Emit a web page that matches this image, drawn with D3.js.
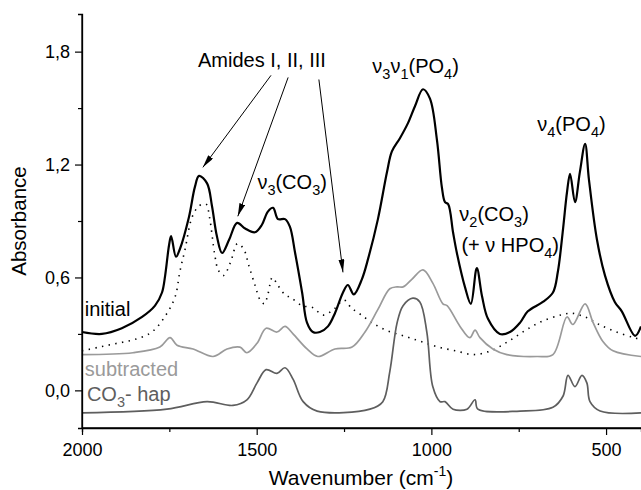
<!DOCTYPE html>
<html>
<head>
<meta charset="utf-8">
<script src="https://cdn.jsdelivr.net/npm/d3@7"></script>
<style>
  body { margin: 0; background: #fff; }
  text { font-family: Arial, "Liberation Sans", sans-serif; }
</style>
</head>
<body>
<svg id="chart" width="641" height="490"></svg>
<script>
// spectra: [wavenumber, absorbance]
const initial = [
  [2000,0.31],[1943,0.30],[1886,0.33],[1828,0.39],[1791,0.45],[1771,0.52],[1762,0.61],[1751,0.77],
  [1745,0.82],[1731,0.71],[1720,0.75],[1694,0.92],[1677,1.08],[1665,1.14],[1642,1.10],[1628,0.98],
  [1614,0.82],[1599,0.73],[1579,0.80],[1556,0.89],[1533,0.86],[1505,0.84],[1485,0.88],[1468,0.95],
  [1453,0.97],[1439,0.91],[1419,0.91],[1405,0.87],[1390,0.73],[1370,0.52],[1356,0.36],[1339,0.31],
  [1319,0.31],[1296,0.34],[1276,0.41],[1253,0.52],[1239,0.56],[1222,0.51],[1199,0.59],[1181,0.70],
  [1153,0.91],[1127,1.16],[1113,1.27],[1090,1.34],[1067,1.42],[1047,1.51],[1024,1.60],[1004,1.55],
  [984,1.33],[970,1.08],[961,1.00],[952,0.99],[938,0.84],[927,0.73],[904,0.55],[887,0.46],
  [870,0.65],[855,0.50],[838,0.38],[804,0.30],[775,0.31],[746,0.36],[724,0.42],[681,0.47],
  [652,0.52],[638,0.63],[623,0.86],[612,1.05],[603,1.15],[589,1.00],[575,1.16],[560,1.31],
  [549,1.12],[526,0.80],[503,0.61],[475,0.47],[455,0.42],[417,0.29],[400,0.34]
];

const organic = [
  [2000,0.21],[1950,0.23],[1900,0.25],[1850,0.27],[1800,0.31],[1760,0.40],[1733,0.50],[1720,0.63],
  [1705,0.75],[1685,0.92],[1665,0.98],[1645,0.99],[1635,0.92],[1620,0.72],[1610,0.64],[1595,0.61],
  [1575,0.68],[1555,0.78],[1537,0.75],[1522,0.66],[1505,0.56],[1490,0.48],[1478,0.46],[1468,0.51],
  [1455,0.60],[1440,0.56],[1420,0.51],[1400,0.49],[1370,0.45],[1340,0.44],[1310,0.40],[1280,0.43],
  [1250,0.48],[1230,0.44],[1200,0.40],[1170,0.36],[1130,0.32],[1080,0.29],[1030,0.26],[980,0.23],
  [930,0.21],[880,0.19],[830,0.21],[780,0.26],[730,0.32],[680,0.37],[630,0.40],[600,0.41],
  [560,0.39],[520,0.35],[470,0.31],[420,0.28],[400,0.27]
];

const subtracted = [
  [2000,0.19],[1854,0.20],[1777,0.23],[1748,0.28],[1728,0.24],[1682,0.22],[1625,0.18],[1585,0.22],
  [1548,0.23],[1528,0.20],[1499,0.25],[1473,0.33],[1442,0.31],[1419,0.34],[1396,0.30],[1356,0.22],
  [1325,0.18],[1276,0.22],[1227,0.23],[1190,0.31],[1153,0.43],[1119,0.54],[1098,0.55],[1081,0.55],
  [1056,0.59],[1024,0.64],[996,0.57],[967,0.46],[955,0.45],[918,0.34],[890,0.28],[875,0.32],
  [861,0.28],[824,0.22],[784,0.19],[698,0.18],[652,0.19],[612,0.39],[595,0.35],[560,0.46],
  [537,0.36],[509,0.26],[480,0.21],[400,0.18]
];

const co3hap = [
  [2000,-0.12],[1757,-0.10],[1642,-0.06],[1568,-0.08],[1528,-0.05],[1499,0.04],[1473,0.11],[1442,0.09],
  [1419,0.12],[1396,0.06],[1367,-0.06],[1327,-0.11],[1176,-0.10],[1139,-0.06],[1119,0.10],[1098,0.36],
  [1081,0.45],[1053,0.49],[1033,0.47],[1013,0.31],[996,0.02],[975,-0.06],[961,-0.06],[938,-0.10],
  [898,-0.10],[875,-0.05],[867,-0.10],[746,-0.11],[652,-0.09],[623,-0.03],[609,0.08],[589,0.02],
  [569,0.08],[555,0.04],[546,-0.06],[517,-0.11],[400,-0.12]
];

const xMajor = [2000, 1500, 1000, 500];
const xMinor = [1750, 1250, 750];
const yMajor = [0, 0.6, 1.2, 1.8];
const yMinor = [0.3, 0.9, 1.5];

const svg = d3.select("#chart");

const x = d3.scaleLinear().domain([2000, 400]).range([82, 641]);
const y = d3.scaleLinear().domain([-0.2, 2.0]).range([428, 14]);

const line = d3.line()
    .x(d => x(d[0]))
    .y(d => y(d[1]))
    .curve(d3.curveCatmullRom.alpha(0.5));

// curves
svg.append("path").datum(organic)
    .attr("d", line).attr("fill", "none")
    .attr("stroke", "#000").attr("stroke-width", 1.6)
    .attr("stroke-dasharray", "1.4,5.4");

svg.append("path").datum(co3hap)
    .attr("d", line).attr("fill", "none")
    .attr("stroke", "#5e5e5e").attr("stroke-width", 1.7);

svg.append("path").datum(subtracted)
    .attr("d", line).attr("fill", "none")
    .attr("stroke", "#9a9a9a").attr("stroke-width", 1.7);

svg.append("path").datum(initial)
    .attr("d", line).attr("fill", "none")
    .attr("stroke", "#000").attr("stroke-width", 2.2);

// axes
const fmt = d => d3.format(".1f")(d).replace(".", ",");

const gx = svg.append("g").attr("transform", "translate(0,428)")
    .call(d3.axisBottom(x).tickValues(xMajor).tickSize(7).tickPadding(8).tickFormat(d3.format("d")));
svg.append("g").attr("transform", "translate(0,428)")
    .call(d3.axisBottom(x).tickValues(xMinor).tickSize(4).tickFormat(""));

const gy = svg.append("g").attr("transform", "translate(82,0)")
    .call(d3.axisLeft(y).tickValues(yMajor).tickSize(7).tickPadding(5).tickFormat(fmt));
svg.append("g").attr("transform", "translate(82,0)")
    .call(d3.axisLeft(y).tickValues(yMinor).tickSize(4).tickFormat(""));

svg.selectAll(".domain").attr("stroke", "#000").attr("stroke-width", 1.3);
svg.selectAll(".tick line").attr("stroke", "#000").attr("stroke-width", 1.2);
svg.selectAll(".tick text")
    .style("font-family", "Arial, 'Liberation Sans', sans-serif")
    .style("font-size", "18px").attr("fill", "#000");
// plain axis lines, no end caps
gx.select(".domain").attr("d", "M82,0H641");
gy.select(".domain").attr("d", "M0,428V14");

const xt = svg.append("text")
    .attr("x", 361).attr("y", 485)
    .attr("text-anchor", "middle")
    .style("font-size", "21px");
xt.append("tspan").text("Wavenumber (cm");
xt.append("tspan").attr("dy", -9).style("font-size", "14px").text("-1");
xt.append("tspan").attr("dy", 9).text(")");

svg.append("text")
    .attr("transform", "translate(26,221) rotate(-90)")
    .attr("text-anchor", "middle")
    .style("font-size", "20.5px")
    .text("Absorbance");

// annotations
svg.append("defs").append("marker")
    .attr("id", "arrow")
    .attr("viewBox", "0 0 13 6")
    .attr("refX", 13).attr("refY", 3)
    .attr("markerWidth", 13).attr("markerHeight", 6)
    .attr("markerUnits", "userSpaceOnUse")
    .attr("orient", "auto")
    .append("path").attr("d", "M0,0L13,3L0,6Z").attr("fill", "#000");

const arrows = [
  { from: [1459, 1.674], to: [1654, 1.185] },
  { from: [1410, 1.663], to: [1554, 0.925] },
  { from: [1322, 1.652], to: [1253, 0.627] }
];
svg.append("g").selectAll("line").data(arrows).enter().append("line")
    .attr("x1", d => x(d.from[0])).attr("y1", d => y(d.from[1]))
    .attr("x2", d => x(d.to[0])).attr("y2", d => y(d.to[1]))
    .attr("stroke", "#000").attr("stroke-width", 1)
    .attr("marker-end", "url(#arrow)");

// parts: [text, isSub]
function label(wn, ab, parts, color, anchor) {
  const t = svg.append("text")
      .attr("x", x(wn)).attr("y", y(ab))
      .attr("text-anchor", anchor || "start")
      .attr("fill", color || "#000")
      .style("font-size", "20px");
  let sub = false;
  parts.forEach(p => {
    const s = t.append("tspan").text(p[0]);
    if (p[1] && !sub) { s.attr("dy", 6).style("font-size", "14.5px"); sub = true; }
    else if (p[1]) { s.style("font-size", "14.5px"); }
    else if (sub) { s.attr("dy", -6); sub = false; }
  });
  return t;
}

label(1485, 1.72, [["Amides I, II, III"]], "#000", "middle");
label(1498, 1.07, [["ν"], ["3", 1], ["(CO"], ["3", 1], [")"]]);
label(1169, 1.685, [["ν"], ["3", 1], ["ν"], ["1", 1], ["(PO"], ["4", 1], [")"]]);
label(697, 1.38, [["ν"], ["4", 1], ["(PO"], ["4", 1], [")"]]);
label(920, 0.90, [["ν"], ["2", 1], ["(CO"], ["3", 1], [")"]]);
label(914, 0.733, [["(+ ν HPO"], ["4", 1], [")"]]);
label(1992, 0.395, [["initial"]], "#000");
label(1992, 0.075, [["subtracted"]], "#9a9a9a");
label(1986, -0.058, [["CO"], ["3", 1], ["- hap"]], "#5e5e5e");
</script>
</body>
</html>
